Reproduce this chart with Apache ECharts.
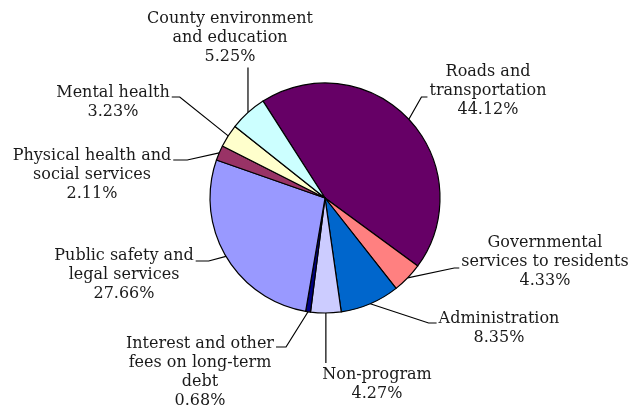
<!DOCTYPE html>
<html>
<head>
<meta charset="utf-8">
<title>Expenditures by program</title>
<script src="https://cdn.jsdelivr.net/npm/echarts@6/dist/echarts.min.js"></script>
<style>
    html, body { margin: 0; padding: 0; background: #fff; }
    #chart { width: 639px; height: 407px; }
</style>
</head>
<body>
<div id="chart"></div>
<script>
    // slices, clockwise from the top-left edge of "Roads"
    var categories = [
        'Roads and\ntransportation',
        'Governmental\nservices to residents',
        'Administration',
        'Non-program',
        'Interest and other\nfees on long-term\ndebt',
        'Public safety and\nlegal services',
        'Physical health and\nsocial services',
        'Mental health',
        'County environment\nand education'
    ];
    var shares = [44.12, 4.33, 8.35, 4.27, 0.68, 27.66, 2.11, 3.23, 5.25];
    var colors = ['#660066', '#ff8080', '#0066cc', '#ccccff', '#000080', '#9999ff', '#993366', '#ffffcc', '#ccffff'];

    // where each label block sits, and on which side its leader line joins it
    var labelSpots = [
        {x: 488, y: 91,  side: 'left',   dy: 6,   stub: 6},
        {x: 545, y: 262, side: 'left',   dy: 6,   stub: 5},
        {x: 499, y: 328, side: 'left',   dy: -5,  stub: 8},
        {x: 377, y: 384, side: 'top'},
        {x: 200, y: 372, side: 'right',  dy: -25, stub: 10},
        {x: 124, y: 275, side: 'right',  dy: -14, stub: 13},
        {x: 92,  y: 175, side: 'right',  dy: -15, stub: 14},
        {x: 113, y: 102, side: 'right',  dy: -5,  stub: 8},
        {x: 230, y: 38,  side: 'bottom'}
    ];

    var chart = echarts.init(document.getElementById('chart'));

    var data = categories.map(function (name, i) {
        return {name: name, value: shares[i], itemStyle: {color: colors[i]}};
    });

    chart.setOption({
        animation: false,
        series: [{
            type: 'pie',
            center: [325, 198],
            radius: 115,
            startAngle: 122.6,
            clockwise: true,
            avoidLabelOverlap: false,
            itemStyle: {borderColor: '#000', borderWidth: 1.2},
            emphasis: {disabled: true},
            label: {
                show: true,
                position: 'outside',
                fontFamily: 'DejaVu Serif',
                fontSize: 16,
                lineHeight: 19,
                color: '#1a1a1a',
                align: 'center',
                formatter: function (p) {
                    return p.name + '\n' + p.value.toFixed(2) + '%';
                }
            },
            labelLine: {
                show: true,
                lineStyle: {color: '#000', width: 1.2}
            },
            labelLayout: function (p) {
                var s = labelSpots[p.dataIndex];
                var w = p.labelRect.width, h = p.labelRect.height;
                var a = p.labelLinePoints[0];
                var pts;
                if (s.side === 'left' || s.side === 'right') {
                    var dir = s.side === 'left' ? -1 : 1;
                    var ex = s.x + dir * (w / 2 + 2);
                    var ey = s.y + s.dy;
                    pts = [a, [ex + dir * s.stub, ey], [ex, ey]];
                } else if (s.side === 'top') {
                    pts = [a, [a[0], s.y - h / 2 - 2]];
                } else {
                    pts = [a, [a[0], s.y + h / 2 + 1]];
                }
                return {
                    x: s.x,
                    y: s.y,
                    align: 'center',
                    verticalAlign: 'middle',
                    labelLinePoints: pts
                };
            },
            data: data
        }]
    });
</script>
</body>
</html>
